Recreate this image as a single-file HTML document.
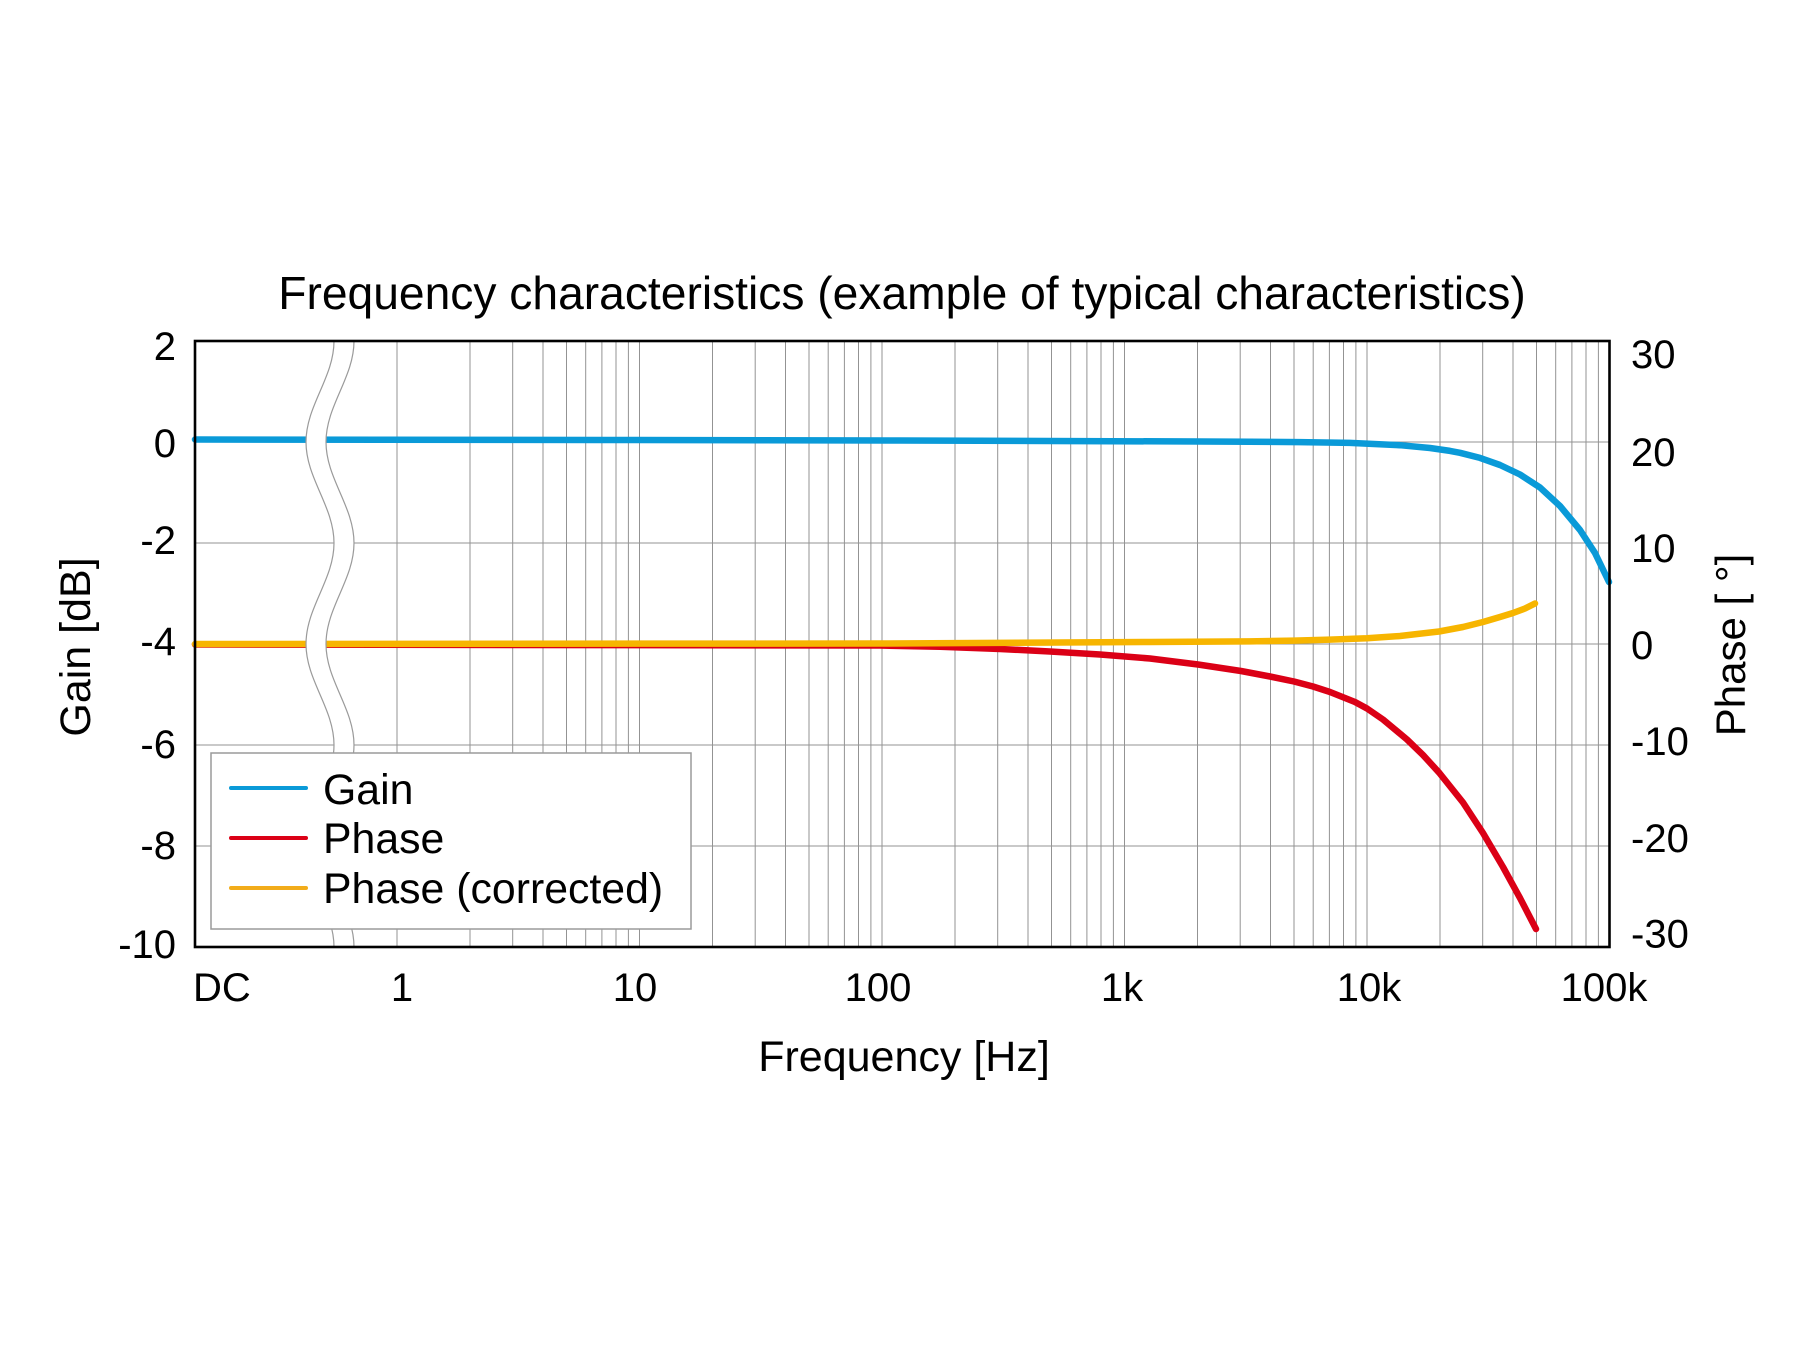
<!DOCTYPE html>
<html>
<head>
<meta charset="utf-8">
<style>
html,body{margin:0;padding:0;background:#fff;}
svg{display:block;}
</style>
</head>
<body>
<svg width="1800" height="1350" viewBox="0 0 1800 1350" xmlns="http://www.w3.org/2000/svg" font-family="'Liberation Sans', Arial, sans-serif">
<rect x="0" y="0" width="1800" height="1350" fill="#ffffff"/>

<!-- vertical gridlines -->
<path fill="none" stroke="#939393" stroke-width="1" d="
M397,341V947 M470,341V947 M512.7,341V947 M543,341V947 M566.5,341V947 M585.7,341V947 M601.9,341V947 M616,341V947 M628.4,341V947
M639.5,341V947 M712.5,341V947 M755.2,341V947 M785.5,341V947 M809,341V947 M828.2,341V947 M844.4,341V947 M858.5,341V947 M870.9,341V947
M882,341V947 M955,341V947 M997.7,341V947 M1028,341V947 M1051.5,341V947 M1070.7,341V947 M1086.9,341V947 M1101,341V947 M1113.4,341V947
M1124.5,341V947 M1197.5,341V947 M1240.2,341V947 M1270.5,341V947 M1294,341V947 M1313.2,341V947 M1329.4,341V947 M1343.5,341V947 M1355.9,341V947
M1367,341V947 M1440,341V947 M1482.7,341V947 M1513,341V947 M1536.5,341V947 M1555.7,341V947 M1571.9,341V947 M1586,341V947 M1598.4,341V947"/>
<!-- horizontal gridlines -->
<path fill="none" stroke="#939393" stroke-width="1" d="M195,442H1609 M195,543H1609 M195,644H1609 M195,745H1609 M195,846H1609"/>

<!-- Gain -->
<polyline fill="none" stroke="#0a9ad8" stroke-width="6.5" stroke-linecap="round" stroke-linejoin="round"
points="195,439.5 600,440 900,440.5 1200,441.5 1250,441.7 1300,442.1 1350,442.9 1400,445.2 1430,448 1450,450.9 1460,452.8 1480,457.9 1500,465 1520,474.5 1540,487.5 1560,506 1580,530 1595,553 1609,582"/>

<!-- Phase -->
<polyline fill="none" stroke="#db0016" stroke-width="6.5" stroke-linecap="round" stroke-linejoin="round"
points="195,644.5 880,645.5 940,646.8 1000,649 1050,651.5 1100,654.5 1150,658.5 1198,664.5 1241,671 1270,676.5 1294,681.5 1313,686.5 1330,692 1355,702 1367,708.5 1383,719.5 1407,739.5 1423,755 1439,772.5 1463,802.5 1483,833 1503,867 1520,898 1536,929"/>

<!-- Phase corrected -->
<polyline fill="none" stroke="#f7b500" stroke-width="6.5" stroke-linecap="round" stroke-linejoin="round"
points="195,644 880,643.5 1150,642 1250,641.4 1294,640.6 1330,639.6 1367,638.3 1400,636 1439,631.5 1463,627 1483,622 1500,617 1513,613 1525,608.5 1535,603.5"/>

<!-- axis break band -->
<path fill="#ffffff" stroke="none" d="M334,341 C334,377.7 306,405.3 306,442 C306,478.7 334,506.3 334,543 C334,579.7 306,607.3 306,644 C306,680.7 334,708.3 334,745 C334,781.7 306,809.3 306,846 C306,882.7 334,910.3 334,947 L354,947 C354,910.3 326,882.7 326,846 C326,809.3 354,781.7 354,745 C354,708.3 326,680.7 326,644 C326,607.3 354,579.7 354,543 C354,506.3 326,478.7 326,442 C326,405.3 354,377.7 354,341 Z"/>
<path fill="none" stroke="#9a9a9a" stroke-width="1.2" d="M334,341 C334,377.7 306,405.3 306,442 C306,478.7 334,506.3 334,543 C334,579.7 306,607.3 306,644 C306,680.7 334,708.3 334,745 C334,781.7 306,809.3 306,846 C306,882.7 334,910.3 334,947"/>
<path fill="none" stroke="#9a9a9a" stroke-width="1.2" d="M354,341 C354,377.7 326,405.3 326,442 C326,478.7 354,506.3 354,543 C354,579.7 326,607.3 326,644 C326,680.7 354,708.3 354,745 C354,781.7 326,809.3 326,846 C326,882.7 354,910.3 354,947"/>

<!-- legend -->
<rect x="211" y="753" width="480" height="176" fill="#ffffff" stroke="#9a9a9a" stroke-width="1.5"/>
<line x1="231" y1="788" x2="306" y2="788" stroke="#0a9ad8" stroke-width="4" stroke-linecap="round"/>
<line x1="231" y1="838" x2="306" y2="838" stroke="#db0016" stroke-width="4" stroke-linecap="round"/>
<line x1="231" y1="888" x2="306" y2="888" stroke="#f2ac1a" stroke-width="4" stroke-linecap="round"/>
<g font-size="42.8" fill="#000">
<text x="323" y="804">Gain</text>
<text x="323" y="853">Phase</text>
<text x="323" y="903">Phase (corrected)</text>
</g>

<!-- plot border -->
<rect x="195" y="341" width="1414.5" height="606" fill="none" stroke="#000" stroke-width="2.6"/>

<!-- title -->
<text x="902" y="309" font-size="46.2" text-anchor="middle" fill="#000">Frequency characteristics (example of typical characteristics)</text>

<!-- left tick labels -->
<g font-size="40" text-anchor="end" fill="#000">
<text x="176" y="360">2</text>
<text x="176" y="457">0</text>
<text x="176" y="554">-2</text>
<text x="176" y="655">-4</text>
<text x="176" y="758">-6</text>
<text x="176" y="859">-8</text>
<text x="176" y="958">-10</text>
</g>

<!-- right tick labels -->
<g font-size="40" fill="#000">
<text x="1631" y="368">30</text>
<text x="1631" y="466">20</text>
<text x="1631" y="562">10</text>
<text x="1631" y="659">0</text>
<text x="1631" y="755">-10</text>
<text x="1631" y="852">-20</text>
<text x="1631" y="947.5">-30</text>
</g>

<!-- x tick labels -->
<g font-size="40" fill="#000" text-anchor="middle">
<text x="193" y="1001" text-anchor="start">DC</text>
<text x="402" y="1001">1</text>
<text x="635" y="1001">10</text>
<text x="878" y="1001">100</text>
<text x="1122" y="1001">1k</text>
<text x="1369" y="1001">10k</text>
<text x="1604" y="1001">100k</text>
</g>

<!-- axis labels -->
<text x="904" y="1071" font-size="43" text-anchor="middle" fill="#000">Frequency [Hz]</text>
<text transform="translate(90,647) rotate(-90)" font-size="43" text-anchor="middle" fill="#000">Gain [dB]</text>
<text transform="translate(1745,645) rotate(-90)" font-size="42" text-anchor="middle" fill="#000">Phase [ °]</text>
</svg>
</body>
</html>
